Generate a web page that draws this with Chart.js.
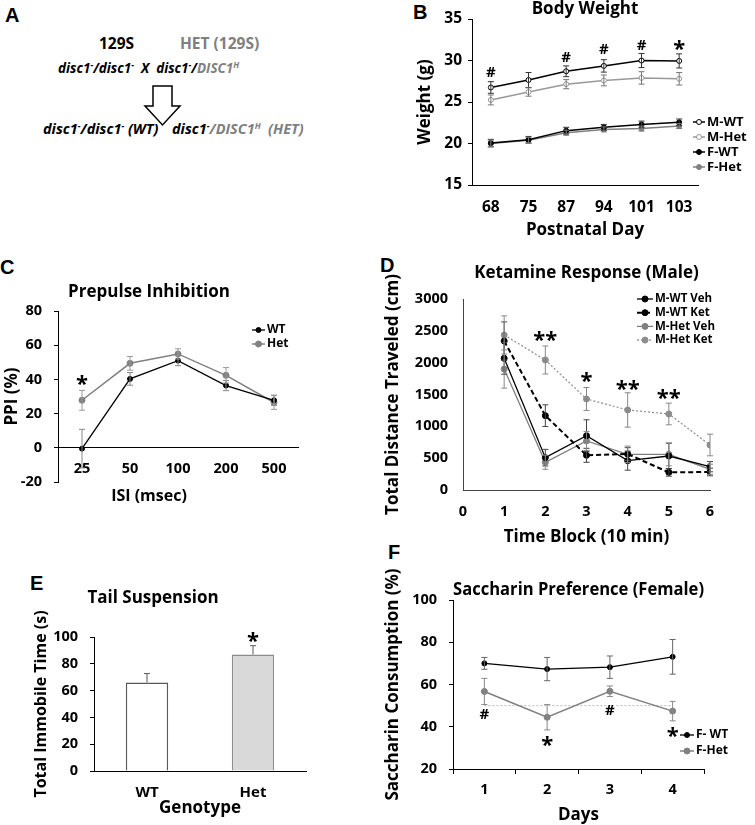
<!DOCTYPE html>
<html>
<head>
<meta charset="utf-8">
<script src="https://cdn.jsdelivr.net/npm/chart.js@4.4.0/dist/chart.umd.min.js"></script>
<style>
body { margin: 0; background: #fff; }
#figure { position: relative; width: 755px; height: 825px; overflow: hidden; background: #fff; font-family: "Open Sans", sans-serif; font-weight: bold; color: #000; }
#figure canvas { position: absolute; }
.letter { position: absolute; font: bold 20px "Liberation Sans", Arial, sans-serif; line-height: 20px; }
.cross { position: absolute; white-space: nowrap; line-height: 20px; font-size: 13.5px; }
.cross.it { font-style: italic; }
.cross.big { font-size: 14.5px; }
.gray { color: #7f7f7f; }
.cross sup { font-size: 8.5px; position: relative; top: -5px; vertical-align: baseline; }
</style>
</head>
<body>
<div id="figure">
  <div class="letter" style="left:5px;top:5px">A</div>
  <div class="letter" style="left:413px;top:2px">B</div>
  <div class="letter" style="left:0px;top:257px">C</div>
  <div class="letter" style="left:380px;top:255px">D</div>
  <div class="letter" style="left:30px;top:573px">E</div>
  <div class="letter" style="left:388px;top:542px">F</div>

  <div class="cross" style="left:99px;top:33px;font-size:15.5px">129S</div>
  <div class="cross gray" style="left:180px;top:33px;font-size:15.5px">HET (129S)</div>
  <div class="cross it" style="left:58px;top:58px">disc1<sup>-</sup>/disc1<sup>-</sup>&nbsp; X &nbsp;disc1<sup>-</sup>/<span class="gray">DISC1<sup>H</sup></span></div>
  <svg style="position:absolute;left:0;top:0" width="380" height="140">
    <polygon points="153,86 172,86 172,106 180,106 162.5,125 145,106 153,106" fill="#fff" stroke="#000" stroke-width="1.5"/>
  </svg>
  <div class="cross it big" style="left:43px;top:119px">disc1<sup>-</sup>/disc1<sup>-</sup> (WT)</div>
  <div class="cross it big" style="left:172px;top:119px">disc1<sup>-</sup><span class="gray">/DISC1<sup>H</sup>&nbsp; (HET)</span></div>

  <canvas id="bodyWeight" width="375" height="245" style="left:380px;top:0px"></canvas>
  <canvas id="ppi" width="346" height="240" style="left:0px;top:270px"></canvas>
  <canvas id="ketamine" width="375" height="288" style="left:380px;top:262px"></canvas>
  <canvas id="tail" width="346" height="240" style="left:0px;top:585px"></canvas>
  <canvas id="saccharin" width="373" height="265" style="left:382px;top:560px"></canvas>
</div>
<script>
// B - body weight
const bDays = ['68', '75', '87', '94', '101', '103']
const bMaleWT = [26.75, 27.65, 28.7, 29.35, 30.0, 29.95]
const bMaleWTErr = [0.7, 0.9, 0.65, 0.75, 0.85, 0.85]
const bMaleHet = [25.25, 26.2, 27.15, 27.6, 27.9, 27.8]
const bMaleHetErr = [0.6, 0.5, 0.55, 0.65, 0.75, 0.75]
const bFemWT = [20.05, 20.45, 21.55, 21.95, 22.3, 22.55]
const bFemWTErr = [0.45, 0.4, 0.4, 0.35, 0.4, 0.4]
const bFemHet = [20.0, 20.4, 21.3, 21.7, 21.8, 22.1]
const bFemHetErr = [0.4, 0.35, 0.3, 0.3, 0.3, 0.3]
const bSigText = ['#', '', '#', '#', '#', '*']
const bSigY = [28.65, null, 30.45, 31.45, 31.95, 32.1]

// C - prepulse inhibition
const cIsi = ['25', '50', '100', '200', '500']
const cWT = [-0.5, 40.3, 51, 36.4, 27.8]
const cWTErr = [11.3, 3.7, 3, 3, 3]
const cHet = [27.8, 49.4, 54.9, 42.4, 26.5]
const cHetErr = [5.8, 4, 3, 4.5, 4]
const cSigText = ['*', '', '', '', '']
const cSigY = [40.5, null, null, null, null]

// D - ketamine response (male)
const dBlocks = [1, 2, 3, 4, 5, 6]
const dWTVeh = [2068, 508, 853, 461, 534, 366]
const dWTVehErr = [250, 130, 250, 150, 200, 80]
const dWTKet = [2340, 1168, 545, 565, 277, 283]
const dWTKetErr = [300, 170, 110, 100, 60, 60]
const dHetVeh = [1900, 435, 770, 560, 560, 325]
const dHetVehErr = [300, 110, 150, 130, 180, 80]
const dHetKet = [2435, 2042, 1430, 1257, 1194, 707]
const dHetKetErr = [300, 220, 180, 270, 170, 170]
const dSigText = ['', '**', '*', '**', '**', '']
const dSigY = [null, 2450, 1806, 1675, 1529, null]

// E - tail suspension
const eGroups = ['WT', 'Het']
const eImmobile = [66, 87]
const eImmobileErr = [6.7, 6.5]
const eSigText = ['', '*']
const eSigY = [null, 101.5]

// F - saccharin preference (female)
const fDays = ['1', '2', '3', '4']
const fWT = [70.0, 67.3, 68.2, 73.1]
const fWTErr = [2.8, 5.5, 5.3, 8.2]
const fHet = [56.7, 44.5, 56.8, 47.4]
const fHetErr = [6.2, 6, 2.5, 4.6]
const fChance = [50, 50, 50, 50]
const fSigText = ['#', '*', '#', '*']
const fSigY = [46.3, 33.9, 48.2, 38.3]

const FONT = "'Open Sans'"

Chart.defaults.font.family = FONT
Chart.defaults.font.weight = 'bold'
Chart.defaults.font.size = 14.5
Chart.defaults.color = '#000'
Chart.defaults.animation = false
Chart.defaults.plugins.legend.display = false
Chart.defaults.plugins.tooltip.enabled = false

//Error bars read from dataset.errors, drawn through the y scale
const errorBars = {
    id: 'errorBars',
    afterDatasetsDraw(chart) {
        const ctx = chart.ctx
        const y = chart.scales.y
        chart.data.datasets.forEach((ds, i) => {
            if (!ds.errors) return
            const meta = chart.getDatasetMeta(i)
            ctx.save()
            ctx.strokeStyle = ds.errorColor || ds.borderColor
            ctx.lineWidth = 1
            meta.data.forEach((el, j) => {
                const v = ds.data[j]
                const e = ds.errors[j]
                if (v == null || !e) return
                const top = y.getPixelForValue(v + e)
                const bottom = y.getPixelForValue(ds.errorUpOnly ? v : v - e)
                ctx.beginPath()
                ctx.moveTo(el.x, top)
                ctx.lineTo(el.x, bottom)
                ctx.moveTo(el.x - 3, top)
                ctx.lineTo(el.x + 3, top)
                if (!ds.errorUpOnly) {
                    ctx.moveTo(el.x - 3, bottom)
                    ctx.lineTo(el.x + 3, bottom)
                }
                ctx.stroke()
            })
            ctx.restore()
        })
    }
}

//Significance marks (# and *) over the categories
const sigMarks = {
    id: 'sigMarks',
    afterDatasetsDraw(chart, args, opts) {
        if (!opts || !opts.text) return
        const ctx = chart.ctx
        const points = chart.getDatasetMeta(0).data
        const y = chart.scales.y
        ctx.save()
        ctx.fillStyle = '#000'
        ctx.textAlign = 'center'
        ctx.textBaseline = 'alphabetic'
        opts.text.forEach((t, i) => {
            if (!t) return
            const star = t.indexOf('*') >= 0
            const size = star ? 22 : 15
            ctx.font = 'bold ' + size + 'px ' + FONT
            ctx.fillText(t, points[i].x, y.getPixelForValue(opts.y[i]) + size * (star ? 0.58 : 0.36))
        })
        ctx.restore()
    }
}

//Excel like legend: line sample with a marker, then the label
const lineLegend = {
    id: 'lineLegend',
    afterDraw(chart, args, opts) {
        if (!opts || opts.x == null) return
        const ctx = chart.ctx
        let y = opts.y
        chart.data.datasets.forEach(ds => {
            if (ds.noLegend) return
            ctx.save()
            ctx.strokeStyle = ds.borderColor
            ctx.lineWidth = ds.borderWidth
            ctx.setLineDash(ds.borderDash || [])
            ctx.beginPath()
            ctx.moveTo(opts.x, y)
            ctx.lineTo(opts.x + opts.lineLength, y)
            ctx.stroke()
            ctx.setLineDash([])
            ctx.fillStyle = ds.pointBackgroundColor
            ctx.strokeStyle = ds.pointBorderColor
            ctx.lineWidth = 1
            Chart.helpers.drawPoint(ctx, {pointStyle: 'circle', radius: ds.pointRadius, borderWidth: 1, rotation: 0}, opts.x + opts.lineLength / 2, y)
            ctx.fillStyle = '#000'
            ctx.font = 'bold ' + opts.size + 'px ' + FONT
            ctx.textBaseline = 'middle'
            ctx.fillText(ds.label, opts.x + opts.lineLength + 2, y)
            ctx.restore()
            y += opts.spacing
        })
    }
}

Chart.register(errorBars, sigMarks, lineLegend)

function series(label, data, errors, color, extra) {
    return Object.assign({
        label: label,
        data: data,
        errors: errors,
        borderColor: color,
        backgroundColor: color,
        borderWidth: 1.5,
        pointRadius: 2.5,
        pointBackgroundColor: color,
        pointBorderColor: color,
        pointBorderWidth: 1,
        errorColor: color,
        tension: 0
    }, extra)
}

function yAxis(o) {
    return {
        min: o.min,
        max: o.max,
        afterFit: s => { s.width = o.width },
        ticks: {stepSize: o.step, padding: o.pad, font: {size: o.size || 14.5}, callback: v => String(v)},
        grid: {display: true, drawOnChartArea: false, drawTicks: o.tick > 0, tickLength: o.tick, color: o.color || '#000'},
        border: {display: true, color: o.color || '#000', width: 1},
        title: {display: true, text: o.title, font: {size: o.titleSize}, padding: {top: o.titlePad, bottom: 0}}
    }
}

function xAxis(o) {
    return Object.assign({
        offset: true,
        afterFit: s => { s.height = o.height },
        ticks: {padding: o.pad, font: {size: o.size || 14.5}},
        grid: {display: true, drawOnChartArea: false, drawTicks: o.tick > 0, tickLength: o.tick || 0, offset: true, color: o.color || '#000'},
        border: {display: true, color: o.color || '#000', width: 1},
        title: {display: !!o.title, text: o.title, font: {size: o.titleSize}, padding: {top: 0, bottom: o.titlePad}}
    }, o.extra)
}

// B
new Chart(document.getElementById('bodyWeight'), {
    type: 'line',
    data: {
        labels: bDays,
        datasets: [
            series('M-WT', bMaleWT, bMaleWTErr, '#000', {pointBackgroundColor: '#fff', errorColor: '#333'}),
            series('M-Het', bMaleHet, bMaleHetErr, '#999', {pointBackgroundColor: '#fff', errorColor: '#777'}),
            series('F-WT', bFemWT, bFemWTErr, '#000', {errorColor: '#333'}),
            series('F-Het', bFemHet, bFemHetErr, '#808080', {errorColor: '#777'})
        ]
    },
    options: {
        responsive: false,
        devicePixelRatio: 1,
        layout: {padding: {left: 0, right: 57, top: 0, bottom: 0}},
        scales: {
            x: xAxis({height: 60, pad: 13.7, size: 15.5, title: 'Postnatal Day', titleSize: 17, titlePad: 4.8}),
            y: yAxis({min: 15, max: 35, step: 5, width: 92, pad: 6, tick: 4, size: 15.5, title: 'Weight (g)', titleSize: 17, titlePad: 34.8})
        },
        plugins: {
            title: {display: true, text: 'Body Weight', fullSize: false, font: {size: 17, lineHeight: 1.0}, color: '#000', padding: {top: 1, bottom: 1}},
            sigMarks: {text: bSigText, y: bSigY},
            lineLegend: {x: 313, y: 122, lineLength: 12, spacing: 15, size: 13}
        }
    }
})

// C
new Chart(document.getElementById('ppi'), {
    type: 'line',
    data: {
        labels: cIsi,
        datasets: [
            series('WT', cWT, cWTErr, '#000', {borderWidth: 1.3, errorColor: '#888'}),
            series('Het', cHet, cHetErr, '#808080', {pointRadius: 3, errorColor: '#999'})
        ]
    },
    options: {
        responsive: false,
        devicePixelRatio: 1,
        layout: {padding: {left: 0, right: 48, top: 0, bottom: 0}},
        scales: {
            x: xAxis({height: 0, pad: 12.3, extra: {position: {y: 0}}}),
            y: yAxis({min: -20, max: 80, step: 20, width: 58, pad: 12, tick: 4, title: 'PPI (%)', titleSize: 17, titlePad: 1.8})
        },
        plugins: {
            title: {display: true, text: 'Prepulse Inhibition', font: {size: 17}, color: '#000', padding: {top: 11.8, bottom: 8.8}},
            subtitle: {display: true, position: 'bottom', text: 'ISI (msec)', font: {size: 16, weight: 'bold'}, color: '#000', padding: {top: 4.4, bottom: 4.4}},
            sigMarks: {text: cSigText, y: cSigY},
            lineLegend: {x: 252, y: 60, lineLength: 13, spacing: 14, size: 12}
        }
    }
})

// D
new Chart(document.getElementById('ketamine'), {
    type: 'line',
    data: {
        labels: dBlocks,
        datasets: [
            series('M-WT Veh', dWTVeh, dWTVehErr, '#000', {borderWidth: 1.3, pointRadius: 3, errorColor: '#444'}),
            series('M-WT Ket', dWTKet, dWTKetErr, '#000', {borderWidth: 2, borderDash: [5, 3], pointRadius: 3, errorColor: '#444'}),
            series('M-Het Veh', dHetVeh, dHetVehErr, '#808080', {borderWidth: 1.3, pointRadius: 3, errorColor: '#888'}),
            series('M-Het Ket', dHetKet, dHetKetErr, '#8c8c8c', {borderWidth: 1.2, borderDash: [2, 2], pointRadius: 3, errorColor: '#888'})
        ]
    },
    options: {
        responsive: false,
        devicePixelRatio: 1,
        layout: {padding: {left: 0, right: 45, top: 0, bottom: 0}},
        scales: {
            x: xAxis({height: 60, pad: 13.3, title: 'Time Block (10 min)', titleSize: 17, titlePad: 2.8, color: '#444',
                extra: {type: 'linear', min: 0, max: 6, offset: false}}),
            y: yAxis({min: 0, max: 3000, step: 500, width: 83, pad: 15, tick: 0, color: '#444', title: 'Total Distance Traveled (cm)', titleSize: 17, titlePad: 2.8})
        },
        plugins: {
            title: {display: true, text: 'Ketamine Response (Male)', fullSize: false, font: {size: 17}, color: '#000', padding: {top: 0.8, bottom: 15.8}},
            sigMarks: {text: dSigText, y: dSigY},
            lineLegend: {x: 257, y: 37, lineLength: 16, spacing: 13.7, size: 11.5}
        }
    }
})
Chart.getChart('ketamine').options.scales.x.ticks.stepSize = 1
Chart.getChart('ketamine').update()

// E
new Chart(document.getElementById('tail'), {
    type: 'bar',
    data: {
        labels: eGroups,
        datasets: [{
            label: 'Total Immobile Time',
            data: eImmobile,
            errors: eImmobileErr,
            errorUpOnly: true,
            errorColor: '#595959',
            backgroundColor: ['#ffffff', '#d9d9d9'],
            borderColor: ['#595959', '#8c8c8c'],
            borderWidth: 1.5,
            barPercentage: 0.4,
            categoryPercentage: 1.0
        }]
    },
    options: {
        responsive: false,
        devicePixelRatio: 1,
        layout: {padding: {left: 0, right: 40, top: 0, bottom: 0}},
        scales: {
            x: xAxis({height: 54, pad: 13, size: 15, title: 'Genotype', titleSize: 17, titlePad: 6.8, extra: {grid: {display: true, drawOnChartArea: false, drawTicks: false, color: '#000'}}}),
            y: yAxis({min: 0, max: 100, step: 20, width: 94, pad: 12, tick: 4, title: 'Total Immobile Time (s)', titleSize: 16, titlePad: 31.4})
        },
        plugins: {
            title: {display: true, text: 'Tail Suspension', font: {size: 17}, color: '#000', padding: {top: 2.8, bottom: 28.8}},
            sigMarks: {text: eSigText, y: eSigY}
        }
    }
})

// F
new Chart(document.getElementById('saccharin'), {
    type: 'line',
    data: {
        labels: fDays,
        datasets: [
            series('F- WT', fWT, fWTErr, '#000', {borderWidth: 1.3, errorColor: '#666'}),
            series('F-Het', fHet, fHetErr, '#808080', {pointRadius: 3, errorColor: '#888'}),
            series('50%', fChance, null, '#a6a6a6', {borderWidth: 0.8, borderDash: [2, 2], pointRadius: 0, noLegend: true})
        ]
    },
    options: {
        responsive: false,
        devicePixelRatio: 1,
        layout: {padding: {left: 0, right: 51, top: 0, bottom: 0}},
        scales: {
            x: xAxis({height: 56, pad: 7.3, tick: 5, title: 'Days', titleSize: 17, titlePad: 0}),
            y: yAxis({min: 20, max: 100, step: 20, width: 71, pad: 12, tick: 4, title: 'Saccharin Consumption (%)', titleSize: 17, titlePad: 0.8})
        },
        plugins: {
            title: {display: true, text: 'Saccharin Preference (Female)', fullSize: false, font: {size: 17, lineHeight: 1.1}, color: '#000', padding: {top: 20.65, bottom: 0.65}},
            sigMarks: {text: fSigText, y: fSigY},
            lineLegend: {x: 298, y: 175, lineLength: 14, spacing: 16, size: 12}
        }
    }
})
</script>
</body>
</html>
